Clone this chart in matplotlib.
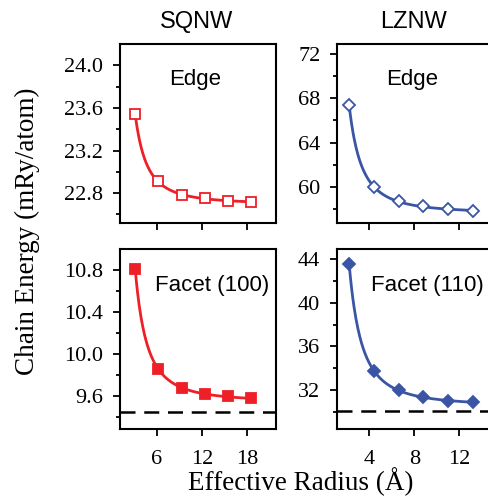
import matplotlib.pyplot as plt
import numpy as np

# SQNW (left column) and LZNW (right column)
sq_radius = [3.1, 6.2, 9.3, 12.4, 15.5, 18.6]
sq_edge = [23.54, 22.91, 22.78, 22.75, 22.73, 22.72]
sq_facet = [10.81, 9.86, 9.68, 9.62, 9.60, 9.58]
sq_facet_limit = 9.45

lz_radius = [2.2, 4.4, 6.6, 8.8, 11.0, 13.2]
lz_edge = [67.4, 60.0, 58.7, 58.25, 58.0, 57.85]
lz_facet = [43.6, 33.75, 31.95, 31.35, 31.0, 30.85]
lz_facet_limit = 30.07

RED = '#ee1f26'
BLUE = '#3a55a6'
SERIF = 'Liberation Serif'
SANS = 'Liberation Sans'

plt.rcParams['font.family'] = SERIF
plt.rcParams['axes.linewidth'] = 1.5


def fit_curve(r, e):
    # smooth a + b/R + c/R^2 fit drawn through the points
    r = np.asarray(r, float)
    A = np.column_stack([np.ones_like(r), 1 / r, 1 / r**2])
    coef = np.linalg.lstsq(A, np.asarray(e, float), rcond=None)[0]
    rr = np.linspace(r[0], r[-1], 200)
    return rr, coef[0] + coef[1] / rr + coef[2] / rr**2


def panel(ax, r, e, color, marker, ms, filled, label, lx, ylim, yticks, yminor, xlim, xticks, limit=None):
    rr, ee = fit_curve(r, e)
    ax.plot(rr, ee, color=color, lw=2.0, zorder=2)
    ax.plot(r, e, ls='none', marker=marker, ms=ms, mew=1.3, mec=color,
            mfc=color if filled else 'white', zorder=3)
    if limit is not None:
        ax.axhline(limit, color='black', lw=1.8, dashes=(6, 3.5), zorder=1)
    ax.set_xlim(*xlim)
    ax.set_ylim(*ylim)
    ax.set_xticks(xticks)
    ax.set_yticks(yticks)
    ax.set_yticks(yminor, minor=True)
    ax.tick_params(axis='both', which='major', direction='out', length=5, width=1.3,
                   labelsize=16)
    ax.tick_params(axis='y', which='major', pad=7)
    ax.tick_params(axis='x', which='major', pad=10)
    ax.tick_params(axis='y', which='minor', direction='out', length=3, width=1.3)
    ax.text(lx, 0.80, label, transform=ax.transAxes, ha='center', va='center',
            fontsize=16, family=SANS)


fig = plt.figure(figsize=(4.88, 5.04), dpi=100)
W, H = 488, 504


def add_axes(x0, y0, x1, y1):
    return fig.add_axes([x0 / W, 1 - y1 / H, (x1 - x0) / W, (y1 - y0) / H])


ax1 = add_axes(120, 44, 276, 223)
ax2 = add_axes(337, 44, 493, 223)
ax3 = add_axes(120, 249, 276, 429)
ax4 = add_axes(337, 249, 493, 429)

panel(ax1, sq_radius, sq_edge, RED, 's', 7, False, 'Edge', 0.48,
      (22.52, 24.2), [22.8, 23.2, 23.6, 24.0], np.arange(22.6, 24.2, 0.2), (1.07, 21.9), [6, 12, 18])
panel(ax3, sq_radius, sq_facet, RED, 's', 7, True, 'Facet (100)', 0.59,
      (9.29, 11.0), [9.6, 10.0, 10.4, 10.8], np.arange(9.4, 11.0, 0.2), (1.07, 21.9), [6, 12, 18],
      limit=sq_facet_limit)
panel(ax2, lz_radius, lz_edge, BLUE, 'D', 6, False, 'Edge', 0.48,
      (56.75, 72.9), [60, 64, 68, 72], np.arange(58, 73, 2), (1.12, 15.0), [4, 8, 12])
panel(ax4, lz_radius, lz_facet, BLUE, 'D', 6, True, 'Facet (110)', 0.58,
      (28.4, 44.95), [32, 36, 40, 44], np.arange(30, 45, 2), (1.12, 15.0), [4, 8, 12],
      limit=lz_facet_limit)

ax1.set_xticklabels([])
ax2.set_xticklabels([])

fig.text(197 / W, 1 - 22 / H, 'SQNW', ha='center', va='center', fontsize=17, family=SANS)
fig.text(413 / W, 1 - 22 / H, 'LZNW', ha='center', va='center', fontsize=17, family=SANS)
fig.text(27 / W, 1 - 231 / H, 'Chain Energy (mRy/atom)', rotation=90, ha='center',
         va='center', fontsize=19.5)
fig.text(301 / W, 1 - 482 / H, 'Effective Radius (\u00c5)', ha='center', va='center', fontsize=19.5)

fig.savefig('out.png', dpi=100)
